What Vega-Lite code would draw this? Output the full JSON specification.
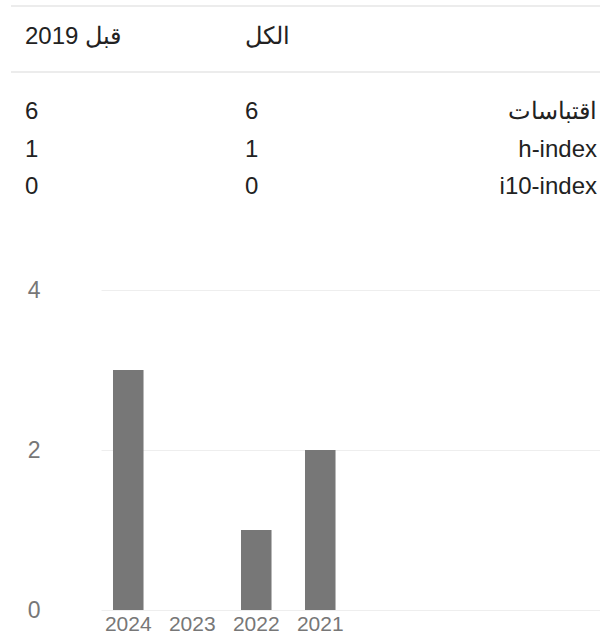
{
  "$schema": "https://vega.github.io/schema/vega-lite/v6.json",
  "autosize": "none",
  "padding": {"left": 101, "top": 290, "right": 0, "bottom": 27},
  "width": 499,
  "height": 320,
  "background": "white",
  "config": {
    "view": {"stroke": null},
    "font": "Liberation Sans",
    "text": {"font": "Liberation Sans"}
  },
  "datasets": {
    "bars": [
      {"year": "2024", "citations": 3},
      {"year": "2023", "citations": 0},
      {"year": "2022", "citations": 1},
      {"year": "2021", "citations": 2}
    ],
    "values": [
      {"row": "header", "col": "before", "text": "2019 قبل"},
      {"row": "header", "col": "all", "text": "الكل"},
      {"row": "cit", "col": "before", "text": "6"},
      {"row": "cit", "col": "all", "text": "6"},
      {"row": "h", "col": "before", "text": "1"},
      {"row": "h", "col": "all", "text": "1"},
      {"row": "i10", "col": "before", "text": "0"},
      {"row": "i10", "col": "all", "text": "0"}
    ],
    "labels": [
      {"row": "cit", "col": "label", "text": "اقتباسات"},
      {"row": "h", "col": "label", "text": "h-index"},
      {"row": "i10", "col": "label", "text": "i10-index"}
    ],
    "lines": [
      {"line": "top"},
      {"line": "mid"}
    ]
  },
  "layer": [
    {
      "data": {"name": "bars"},
      "mark": {"type": "bar", "color": "#777777"},
      "encoding": {
        "x": {
          "field": "year",
          "type": "nominal",
          "sort": ["2024", "2023", "2022", "2021"],
          "scale": {"domain": ["2024", "2023", "2022", "2021", "2020", "2019", "2018"], "paddingInner": 0.523, "paddingOuter": 0.66, "align": 0.142},
          "axis": {"title": null, "values": ["2024", "2023", "2022", "2021"], "labelAngle": 0, "ticks": false, "tickSize": 0, "domain": false, "labelPadding": 3, "labelFontSize": 21, "labelColor": "#777777", "labelFont": "Liberation Sans"}
        },
        "y": {
          "field": "citations",
          "type": "quantitative",
          "scale": {"domain": [0, 4]},
          "axis": {"title": null, "values": [0, 2, 4], "ticks": false, "tickSize": 0, "domain": false, "grid": true, "gridColor": "#eeeeee", "labelPadding": 61, "labelFontSize": 23, "labelColor": "#777777", "labelFont": "Liberation Sans"}
        }
      }
    },
    {
      "data": {"name": "lines"},
      "mark": {"type": "rule", "color": "#e6e6e6", "strokeWidth": 1.5},
      "encoding": {
        "x": {"datum": 0, "type": "quantitative", "scale": {"domain": [0, 1], "range": [-90, 499]}, "axis": null},
        "x2": {"datum": 1},
        "y": {"field": "line", "type": "nominal", "scale": {"type": "point", "domain": ["top", "mid"], "range": [-284, -218], "padding": 0}, "axis": null}
      }
    },
    {
      "data": {"name": "values"},
      "mark": {"type": "text", "align": "left", "baseline": "middle", "fontSize": 24, "color": "#222222", "font": "Liberation Sans"},
      "encoding": {
        "x": {"field": "col", "type": "nominal", "scale": {"type": "point", "domain": ["before", "all"], "range": [-76, 144], "padding": 0}, "axis": null},
        "y": {"field": "row", "type": "nominal", "scale": {"type": "point", "domain": ["header", "gap", "cit", "h", "i10"], "range": [-253, -103], "padding": 0}, "axis": null},
        "text": {"field": "text"}
      }
    },
    {
      "data": {"name": "labels"},
      "mark": {"type": "text", "align": "right", "baseline": "middle", "fontSize": 24, "color": "#222222", "font": "Liberation Sans"},
      "encoding": {
        "x": {"field": "col", "type": "nominal", "scale": {"type": "point", "domain": ["label"], "range": [496, 496], "padding": 0}, "axis": null},
        "y": {"field": "row", "type": "nominal", "scale": {"type": "point", "domain": ["header", "gap", "cit", "h", "i10"], "range": [-253, -103], "padding": 0}, "axis": null},
        "text": {"field": "text"}
      }
    }
  ],
  "resolve": {"scale": {"x": "independent", "y": "independent"}, "axis": {"x": "independent", "y": "independent"}}
}
